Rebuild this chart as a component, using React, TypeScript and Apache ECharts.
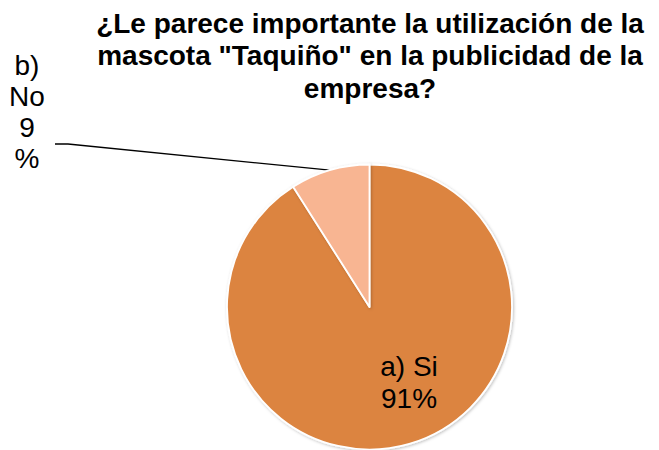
import React, { useEffect, useRef } from "react";
import * as echarts from "echarts";

const titleText = '¿Le parece importante la utilización de la\nmascota "Taquiño" en la publicidad de la\nempresa?';
const categories = ["a) Si", "b) No"];
const values = [91, 9];
const labelTexts = ["a) Si\n91%", "b)\nNo\n9\n%"];
const colors = ["#DC843F", "#F8B592"];

export default function App() {
  const ref = useRef<HTMLDivElement>(null);
  useEffect(() => {
    if (!ref.current) return;
    const chart = echarts.init(ref.current, undefined, { renderer: "svg" });
    const font = "'Liberation Sans', Arial, sans-serif";
    chart.setOption({
      animation: false,
      backgroundColor: "#ffffff",
      title: {
        text: titleText,
        left: 370,
        top: 7,
        padding: 0,
        textAlign: "center",
        textStyle: {
          fontFamily: font,
          fontWeight: "bold",
          fontSize: 28,
          lineHeight: 32.5,
          color: "#000000",
        },
      },
      series: [
        {
          type: "pie",
          center: [369.5, 307],
          radius: 142.5,
          startAngle: 90,
          clockwise: true,
          itemStyle: {
            borderColor: "#ffffff",
            borderWidth: 1.8,
            shadowColor: "rgba(0,0,0,0.25)",
            shadowBlur: 3,
            shadowOffsetX: 1,
            shadowOffsetY: 1,
          },
          label: {
            show: true,
            fontFamily: font,
            fontSize: 28,
            color: "#000000",
          },
          labelLine: { show: true, length: 10, length2: 10, lineStyle: { color: "#000000", width: 1.3 } },
          data: categories.map((c, i) => ({
            name: c,
            value: values[i],
            itemStyle: { color: colors[i] },
            label: {
              show: true,
              position: i === 0 ? "inside" : "outside",
              formatter: labelTexts[i],
              lineHeight: i === 0 ? 32 : 31,
            },
            labelLine: { show: i !== 0 },
          })),
          labelLayout: (params: any) => {
            if (params.dataIndex === 1) {
              const pts = params.labelLinePoints;
              const anchor = pts ? pts[0] : [330, 168];
              return {
                x: 27,
                y: 112,
                align: "center",
                verticalAlign: "middle",
                labelLinePoints: [anchor, [68, 144], [55, 144]],
              };
            }
            return { x: 409, y: 382, align: "center", verticalAlign: "middle" };
          },
        },
      ],
    });
    return () => chart.dispose();
  }, []);
  return (
    <div
      ref={ref}
      style={{ position: "absolute", left: 0, top: 0, width: 659, height: 450 }}
    />
  );
}
